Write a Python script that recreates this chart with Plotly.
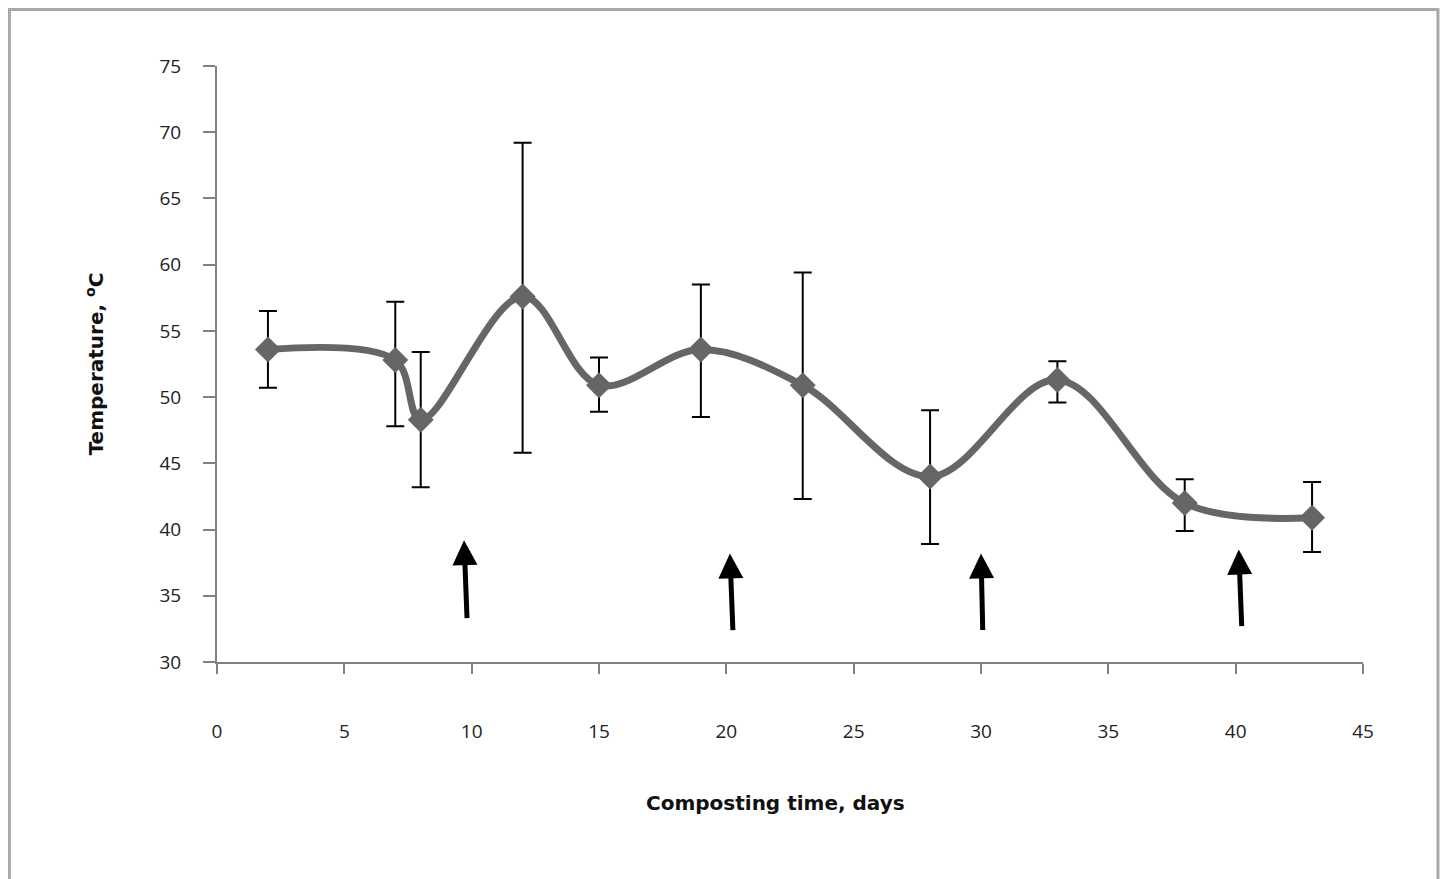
import plotly.graph_objects as go

days = [2, 7, 8, 12, 15, 19, 23, 28, 33, 38, 43]
temp = [53.6, 52.8, 48.3, 57.6, 50.9, 53.6, 50.9, 44.0, 51.3, 42.0, 40.9]
upper = [56.5, 57.2, 53.4, 69.2, 53.0, 58.5, 59.4, 49.0, 52.7, 43.8, 43.6]
lower = [50.7, 47.8, 43.2, 45.8, 48.9, 48.5, 42.3, 38.9, 49.6, 39.9, 38.3]

arrow_tail_x = [9.82, 20.26, 30.07, 40.24]
arrow_tail_y = [33.2, 32.3, 32.3, 32.6]
arrow_head_x = [9.70, 20.14, 30.0, 40.12]
arrow_head_y = [39.2, 38.2, 38.2, 38.5]

x_ticks = [0, 5, 10, 15, 20, 25, 30, 35, 40, 45]
y_ticks = [30, 35, 40, 45, 50, 55, 60, 65, 70, 75]

err_plus = [u - t for u, t in zip(upper, temp)]
err_minus = [t - l for t, l in zip(temp, lower)]

fig = go.Figure()
fig.add_trace(go.Scatter(
    x=days, y=temp, mode="lines+markers",
    line=dict(color="#666666", width=7, shape="spline", smoothing=1.0),
    marker=dict(symbol="diamond", size=20, color="#666666"),
    error_y=dict(type="data", array=err_plus, arrayminus=err_minus,
                 color="black", thickness=2, width=9),
    showlegend=False,
))

for tx, ty, hx, hy in zip(arrow_tail_x, arrow_tail_y, arrow_head_x, arrow_head_y):
    fig.add_annotation(x=hx, y=hy, ax=tx, ay=ty, xref="x", yref="y",
                       axref="x", ayref="y", showarrow=True, text="",
                       arrowhead=2, arrowsize=1.0, arrowwidth=5,
                       arrowcolor="black", standoff=0)

# outer border
fig.add_shape(type="rect", xref="paper", yref="paper",
              x0=-0.1811, x1=1.0654, y0=-0.5, y1=1.0948,
              line=dict(color="#a9a9a9", width=3), layer="below")

tick_font = dict(family="Open Sans, Lato, sans-serif", size=19, color="#222222")
title_font = dict(family="DejaVu Sans, sans-serif", size=20, color="#111111")

fig.add_annotation(text="<b>Composting time, days</b>", xref="paper", yref="paper",
                   x=0.487, y=-0.2366, xanchor="center", yanchor="middle",
                   showarrow=False, font=title_font)

fig.update_layout(
    width=1448, height=879,
    margin=dict(l=209, r=93, t=58, b=225),
    paper_bgcolor="white", plot_bgcolor="white",
    xaxis=dict(range=[0, 45], tickvals=x_ticks, showgrid=False, zeroline=False,
               showline=True, linecolor="#808080", linewidth=2,
               ticks="outside", ticklen=10, tickwidth=2, tickcolor="#808080",
               tickfont=tick_font, ticklabelstandoff=41),
    yaxis=dict(range=[30, 75], tickvals=y_ticks, showgrid=False, zeroline=False,
               showline=True, linecolor="#808080", linewidth=2,
               ticks="outside", ticklen=12, tickwidth=2, tickcolor="#808080",
               tickfont=tick_font, ticklabelstandoff=18,
               title=dict(text="<b>Temperature, <sup>o</sup>C</b>", font=title_font, standoff=50)),
)

fig.write_html("out.html")
